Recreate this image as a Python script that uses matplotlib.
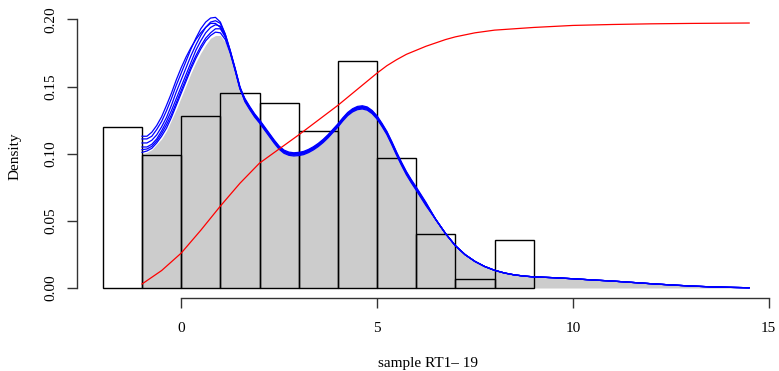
import matplotlib
matplotlib.use("Agg")
import matplotlib.pyplot as plt
import numpy as np

plt.rcParams['font.family'] = ['Liberation Serif', 'DejaVu Serif']

# histogram (density scale), bins of width 1 starting at -2
bin_left = [-2, -1, 0, 1, 2, 3, 4, 5, 6, 7, 8]
bin_height = [0.120, 0.099, 0.128, 0.145, 0.138, 0.117, 0.169, 0.097, 0.040, 0.007, 0.036]

# left part of the density curves (where they differ)
x_left = [-1, -0.875, -0.75, -0.625, -0.5, -0.375, -0.25, -0.125, 0, 0.125, 0.25,
          0.375, 0.5, 0.625, 0.75, 0.875, 1.0, 1.125, 1.25, 1.375, 1.5]
curve_a = [0.113, 0.113, 0.116, 0.121, 0.1275, 0.136, 0.145, 0.155, 0.164, 0.172, 0.179,
           0.185, 0.190, 0.194, 0.197, 0.197, 0.194, 0.187, 0.176, 0.163, 0.149]
curve_b = [0.111, 0.111, 0.113, 0.118, 0.124, 0.132, 0.141, 0.151, 0.160, 0.169, 0.178,
           0.186, 0.193, 0.198, 0.201, 0.2015, 0.198, 0.189, 0.177, 0.164, 0.150]
curve_c = [0.108, 0.108, 0.110, 0.114, 0.120, 0.127, 0.136, 0.146, 0.155, 0.164, 0.173,
           0.181, 0.188, 0.194, 0.198, 0.199, 0.197, 0.189, 0.177, 0.163, 0.149]
curve_d = [0.105, 0.105, 0.107, 0.111, 0.117, 0.124, 0.132, 0.141, 0.150, 0.159, 0.168,
           0.177, 0.184, 0.190, 0.194, 0.196, 0.195, 0.188, 0.176, 0.163, 0.149]
curve_e = [0.103, 0.1035, 0.1055, 0.1095, 0.115, 0.1215, 0.129, 0.138, 0.147, 0.156, 0.165,
           0.173, 0.180, 0.186, 0.190, 0.193, 0.193, 0.187, 0.176, 0.163, 0.149]
curve_f = [0.101, 0.102, 0.104, 0.108, 0.113, 0.119, 0.127, 0.136, 0.145, 0.154, 0.163,
           0.171, 0.178, 0.184, 0.188, 0.1905, 0.190, 0.185, 0.175, 0.162, 0.148]
gray_left = [0.100, 0.101, 0.103, 0.107, 0.111, 0.117, 0.125, 0.133, 0.142, 0.151, 0.160,
             0.168, 0.175, 0.181, 0.186, 0.188, 0.188, 0.183, 0.174, 0.161, 0.147]

# shared right part of the density curves
x_tail = [1.625, 1.75, 1.875, 2.0, 2.125, 2.25, 2.375, 2.5, 2.625, 2.75, 2.875, 3.0,
          3.125, 3.25, 3.375, 3.5, 3.625, 3.75, 3.875, 4.0, 4.125, 4.25, 4.375, 4.5,
          4.625, 4.75, 4.875, 5.0, 5.125, 5.25, 5.375, 5.5, 5.625, 5.75, 5.875, 6.0,
          6.25, 6.5, 6.75, 7.0, 7.25, 7.5, 7.75, 8.0, 8.25, 8.5, 8.75, 9.0, 9.5, 10,
          10.5, 11, 11.5, 12, 12.5, 13, 13.5, 14, 14.5]
dens_tail = [0.140, 0.134, 0.1285, 0.124, 0.119, 0.114, 0.109, 0.1045, 0.1015, 0.100,
             0.0995, 0.0998, 0.1005, 0.102, 0.104, 0.1065, 0.1095, 0.113, 0.117, 0.121,
             0.1255, 0.1295, 0.1323, 0.134, 0.1345, 0.1336, 0.131, 0.127, 0.1215, 0.1155,
             0.108, 0.100, 0.0925, 0.0855, 0.0795, 0.074, 0.0625, 0.051, 0.0405, 0.0315,
             0.0248, 0.0198, 0.016, 0.0132, 0.0112, 0.0098, 0.0089, 0.0083, 0.0077, 0.0069,
             0.006, 0.0052, 0.0042, 0.0032, 0.0023, 0.0015, 0.0009, 0.0005, 0.0002]
# small spread of the bundle around the second mode
tail_spread = [0.0012, 0.0006, 0.0, -0.0006, -0.0012, 0.0003]

# red cumulative curve
x_cum = [-1, -0.5, 0, 0.5, 1, 1.5, 2, 2.5, 3, 3.5, 4, 4.5, 4.75, 5, 5.25, 5.5, 5.75,
         6, 6.25, 6.5, 6.75, 7, 7.25, 7.5, 8, 8.5, 9, 10, 11, 12, 13, 14.5]
y_cum = [0.003, 0.013, 0.026, 0.043, 0.061, 0.078, 0.093, 0.1035, 0.114, 0.125, 0.136,
         0.148, 0.154, 0.160, 0.1655, 0.170, 0.174, 0.177, 0.180, 0.1825, 0.185, 0.187,
         0.1885, 0.190, 0.192, 0.193, 0.194, 0.1955, 0.1962, 0.1967, 0.197, 0.1973]

x_ticks = [0, 5, 10, 15]
y_ticks = [0.00, 0.05, 0.10, 0.15, 0.20]
y_tick_labels = ["0.00", "0.05", "0.10", "0.15", "0.20"]

fig = plt.figure(figsize=(7.79, 3.71), dpi=100)
ax = fig.add_axes([77 / 779, 73 / 371, 698 / 779, 286 / 371])

# gray density polygon
ax.fill_between(x_left + x_tail, 0, gray_left + dens_tail,
                color="#CCCCCC", linewidth=0, zorder=1)

# histogram outlines
ax.bar(bin_left, bin_height, width=1, align="edge", fill=False,
       edgecolor="black", linewidth=1.0, zorder=2)

# blue density curves
tail_arr = np.array(x_tail)
for curve, spread in zip([curve_a, curve_b, curve_c, curve_d, curve_e, curve_f], tail_spread):
    ty = np.array(dens_tail) + np.where(tail_arr < 6.5, spread, 0.0)
    ax.plot(x_left + x_tail, list(curve) + list(ty), color="blue", linewidth=0.9, zorder=3)

ax.plot(x_cum, y_cum, color="red", linewidth=0.9, zorder=4)

ax.set_xlim(-2.66, 15.16)
ax.set_ylim(-0.00743, 0.2055)

for side in ["top", "right"]:
    ax.spines[side].set_visible(False)
ax.spines["left"].set_bounds(0, 0.20)
ax.spines["bottom"].set_bounds(0, 15)
for side in ["left", "bottom"]:
    ax.spines[side].set_color("#333333")
    ax.spines[side].set_linewidth(1.0)

ax.set_xticks(x_ticks)
ax.set_yticks(y_ticks)
ax.set_yticklabels(y_tick_labels)
ax.tick_params(axis="both", direction="out", length=7, width=1.0,
               color="#333333", labelsize=11, pad=7)
ax.tick_params(axis="x", pad=10)
plt.setp(ax.get_yticklabels(), rotation=90, va="center")

fig.text(428 / 779, 1 - 363 / 371, "sample RT1\u2013 19", ha="center", va="center", fontsize=11)
fig.text(15 / 779, 1 - 156 / 371, "Density", ha="center", va="center", rotation=90, fontsize=11)

fig.savefig("out.png", dpi=100)
